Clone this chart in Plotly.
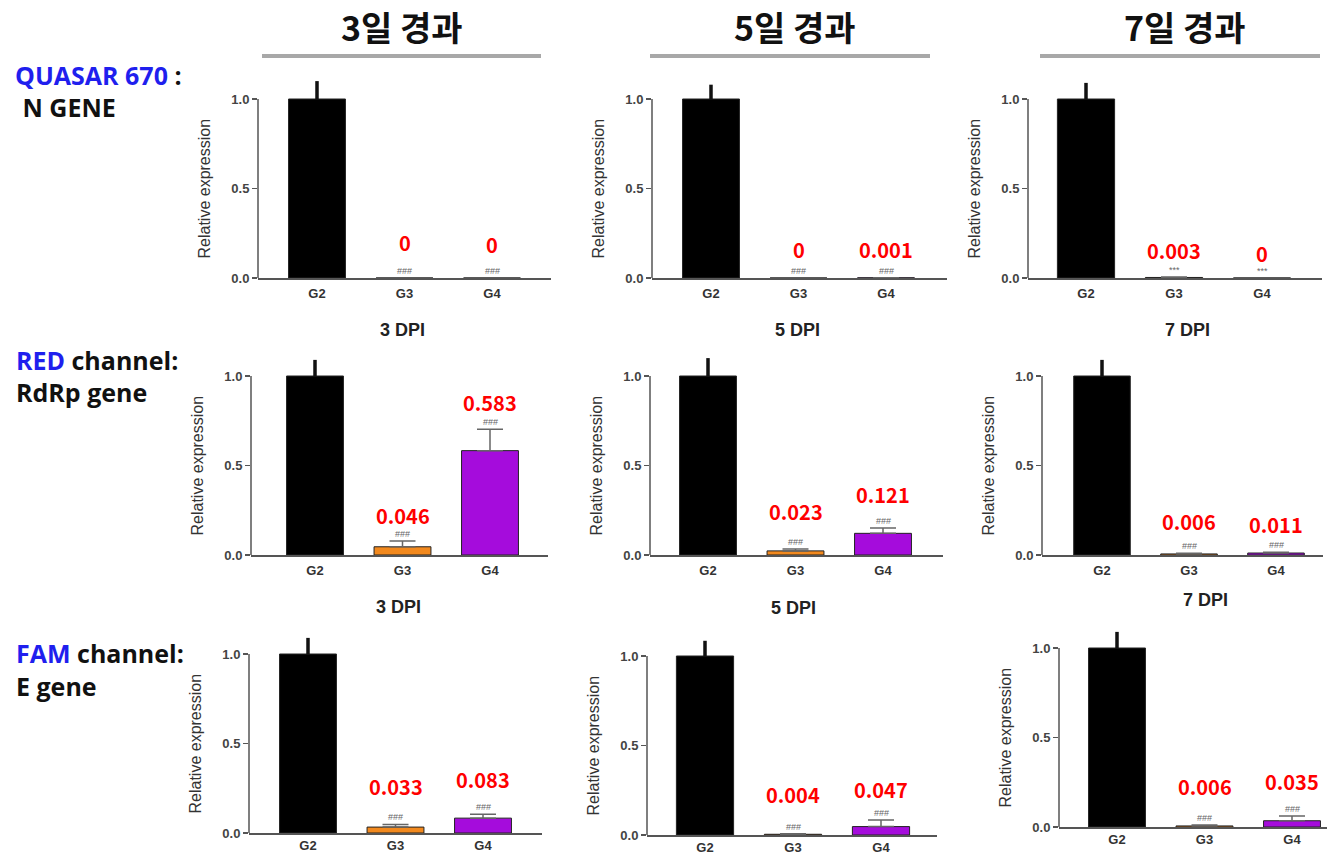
import plotly.graph_objects as go

W, H = 1328, 855

# ---------------- data ----------------
groups = ["G2", "G3", "G4"]
day_labels = ["3 DPI", "5 DPI", "7 DPI"]
col_headers = ["3일 경과", "5일 경과", "7일 경과"]
row_titles = [
    ('<span style="color:#1f1fee">QUASAR 670</span> :', " N GENE"),
    ('<span style="color:#1f1fee">RED</span> channel:', "RdRp gene"),
    ('<span style="color:#1f1fee">FAM</span> channel:', "E gene"),
]

# mean relative expression [day][group]
n_gene_mean = [[1.0, 0.0, 0.0], [1.0, 0.0, 0.001], [1.0, 0.003, 0.0]]
n_gene_err = [[0.10, 0.0, 0.0], [0.08, 0.0, 0.001], [0.09, 0.002, 0.0]]
rdrp_mean = [[1.0, 0.046, 0.583], [1.0, 0.023, 0.121], [1.0, 0.006, 0.011]]
rdrp_err = [[0.09, 0.032, 0.12], [0.10, 0.011, 0.03], [0.09, 0.004, 0.004]]
e_gene_mean = [[1.0, 0.033, 0.083], [1.0, 0.004, 0.047], [1.0, 0.006, 0.035]]
e_gene_err = [[0.09, 0.015, 0.022], [0.085, 0.003, 0.037], [0.09, 0.005, 0.026]]

n_gene_sig = [["", "###", "###"], ["", "###", "###"], ["", "***", "***"]]
rdrp_sig = [["", "###", "###"], ["", "###", "###"], ["", "###", "###"]]
e_gene_sig = [["", "###", "###"], ["", "###", "###"], ["", "###", "###"]]

means = [n_gene_mean, rdrp_mean, e_gene_mean]
errs = [n_gene_err, rdrp_err, e_gene_err]
sigs = [n_gene_sig, rdrp_sig, e_gene_sig]
show_day_label = [True, True, False]

# ---------------- layout geometry (pixels) ----------------
# (axis_left, axis_right, g2_center, spacing, y_of_1.0, y_of_0.0)
geom = [
    [(258, 551, 317, 87.5, 99, 278), (652, 947, 711, 87.5, 99, 278), (1028, 1322, 1086, 88, 99, 278)],
    [(251, 548, 315, 87.5, 376, 555), (650, 943, 708, 87.5, 376, 555), (1042, 1323, 1102, 87, 376, 555)],
    [(249, 542, 308, 87.5, 654, 833), (647, 937, 705, 88, 656, 835), (1059, 1327, 1117, 87.5, 648, 827)],
]
row_standoff = [3, 3, 0]
YTOP = 1.14  # headroom above 1.0 so error bars are not clipped
# pixel y of red value labels for G3, G4
label_px = [
    [(242, 244), (249, 249), (250, 253)],
    [(515, 402), (511, 494), (521, 524)],
    [(786, 779), (794, 789), (786, 781)],
]
day_label_pos = [[(402, 330), (797, 330), (1187, 330)],
                 [(398, 607), (793, 608), (1205, 600)]]
header_pos = [(402, 26), (795, 26), (1185, 26)]
header_lines = [(262, 541), (650, 930), (1040, 1320)]
row_title_pos = [((13, 75), (14, 107)), ((14, 360), (14, 392)), ((14, 653), (14, 686))]

bar_colors = {"G2": "#000000", "G3": "#f2891e", "G4": "#a50cdc"}
FONT = "Arial, Liberation Sans, sans-serif"
AXC = "#555"

fig = go.Figure()
layout = dict(
    width=W, height=H, margin=dict(l=0, r=0, t=0, b=0, autoexpand=False),
    paper_bgcolor="white", plot_bgcolor="white",
    barmode="overlay", showlegend=False, template="none",
)
annotations = []
shapes = []


def fmt(v):
    return "0" if v == 0 else f"{v:.3f}"


for r in range(3):
    for c in range(3):
        k = r * 3 + c + 1
        xa = "x" if k == 1 else f"x{k}"
        ya = "y" if k == 1 else f"y{k}"
        al, ar, g2, sp, y1, y0 = geom[r][c]
        ytop_px = y0 - YTOP * (y0 - y1)
        layout["xaxis" if k == 1 else f"xaxis{k}"] = dict(
            domain=[al / W, ar / W],
            range=[(al - g2) / sp, (ar - g2) / sp],
            type="category", categoryorder="array", categoryarray=groups,
            showline=True, linecolor=AXC, linewidth=1.5,
            ticks="", showgrid=False, zeroline=False,
            tickfont=dict(family=FONT, size=13, color="#333", weight="bold"),
            ticklabelstandoff=row_standoff[r], automargin=False,
            anchor=ya, fixedrange=True,
        )
        layout["yaxis" if k == 1 else f"yaxis{k}"] = dict(
            domain=[1 - y0 / H, 1 - ytop_px / H],
            range=[0, YTOP],
            tickvals=[0, 0.5, 1.0], ticktext=["0.0", "0.5", "1.0"],
            ticks="outside", ticklen=5, tickcolor=AXC, tickwidth=1.5,
            showline=False, automargin=False,
            showgrid=False, zeroline=False,
            tickfont=dict(family=FONT, size=13, color="#444", weight="bold"),
            anchor=xa, fixedrange=True,
        )
        # y-axis line only from 0 to 1.0
        shapes.append(dict(
            type="line", xref=f"{xa} domain", yref=ya,
            x0=0, x1=0, y0=0, y1=1.0,
            line=dict(color=AXC, width=1.5), layer="above",
        ))
        vals = means[r][c]
        ers = errs[r][c]
        for gi, g in enumerate(groups):
            is_ctrl = gi == 0
            fig.add_trace(go.Bar(
                x=[g], y=[vals[gi]], width=[0.65],
                marker=dict(color=bar_colors[g], line=dict(color="#222", width=1)),
                error_y=dict(
                    type="data", array=[ers[gi]], arrayminus=[0], symmetric=False,
                    visible=ers[gi] > 0,
                    color="#111" if is_ctrl else "#666",
                    thickness=3.5 if is_ctrl else 1.5,
                    width=0 if is_ctrl else 13,
                ),
                xaxis=xa, yaxis=ya, hoverinfo="skip",
            ))
            if not is_ctrl:
                py = label_px[r][c][gi - 1]
                annotations.append(dict(
                    x=g, y=(y0 - py) / (y0 - y1), xref=xa, yref=ya,
                    text=f"<b>{fmt(vals[gi])}</b>", showarrow=False,
                    font=dict(family="Noto Sans CJK KR, Noto Sans", size=20, color="#ff0000"),
                    xanchor="center", yanchor="middle",
                ))
                annotations.append(dict(
                    x=g, y=vals[gi] + ers[gi], xref=xa, yref=ya,
                    text=sigs[r][c][gi], showarrow=False,
                    font=dict(family=FONT, size=9, color="#666"),
                    xanchor="center", yanchor="bottom", yshift=0,
                ))
        # y-axis title
        annotations.append(dict(
            x=al / W, xref="paper", xshift=-54,
            y=1 - (y0 + y1) / 2 / H, yref="paper",
            text="Relative expression", textangle=-90, showarrow=False,
            font=dict(family=FONT, size=16, color="#333"),
            xanchor="center", yanchor="middle",
        ))
        if show_day_label[r]:
            dx, dy = day_label_pos[r][c]
            annotations.append(dict(
                x=dx / W, y=1 - dy / H, xref="paper", yref="paper",
                text=f"<b>{day_labels[c]}</b>", showarrow=False,
                font=dict(family=FONT, size=18, color="#222"),
                xanchor="center", yanchor="middle",
            ))

# column headers
for c in range(3):
    hx, hy = header_pos[c]
    annotations.append(dict(
        x=hx / W, y=1 - hy / H, xref="paper", yref="paper",
        text=f"<b>{col_headers[c]}</b>", showarrow=False,
        font=dict(family="Noto Sans CJK KR", size=34, color="#111"),
        xanchor="center", yanchor="middle",
    ))
    lx0, lx1 = header_lines[c]
    shapes.append(dict(
        type="line", xref="paper", yref="paper",
        x0=lx0 / W, x1=lx1 / W, y0=1 - 56 / H, y1=1 - 56 / H,
        line=dict(color="#a8a8a8", width=4),
    ))

# row titles
for r in range(3):
    (ax1, ay1), (ax2, ay2) = row_title_pos[r]
    for (tx, ty), txt in (((ax1, ay1), row_titles[r][0]), ((ax2, ay2), row_titles[r][1])):
        annotations.append(dict(
            x=tx / W, y=1 - ty / H, xref="paper", yref="paper",
            text=f"<b>{txt}</b>", showarrow=False,
            font=dict(family="Open Sans", size=25, color="#111"),
            xanchor="left", yanchor="middle",
        ))

layout["annotations"] = annotations
layout["shapes"] = shapes
fig.update_layout(**layout)

fig.write_html(
    "out.html",
    config={"displayModeBar": False, "staticPlot": True},
    post_script="document.body.style.margin='0';document.body.style.overflow='hidden';",
)
